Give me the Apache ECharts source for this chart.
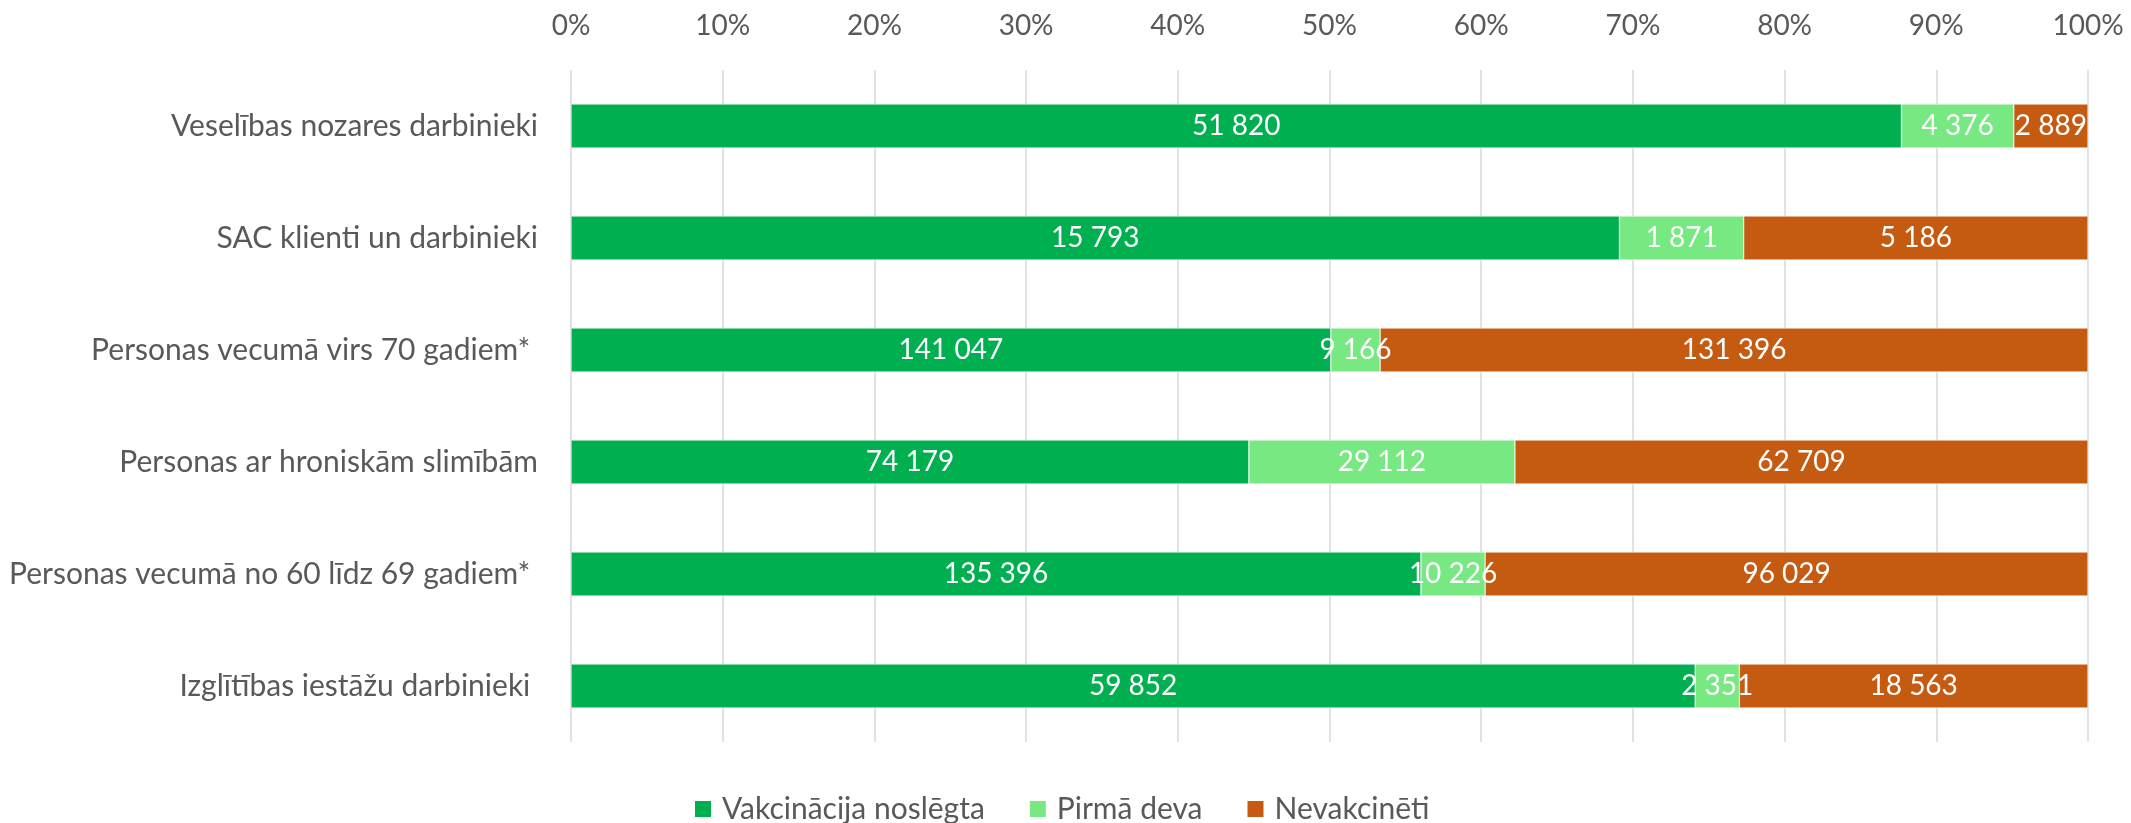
<!DOCTYPE html>
<html>
<head>
<meta charset="utf-8">
<script src="https://cdn.jsdelivr.net/npm/echarts@6/dist/echarts.min.js"></script>
<style>html,body{margin:0;padding:0;background:#fff}#c{width:2131px;height:823px}</style>
</head>
<body>
<div id="c"></div>
<script>
const categories = [
  'Veselības nozares darbinieki',
  'SAC klienti un darbinieki',
  'Personas vecumā virs 70 gadiem* ',
  'Personas ar hroniskām slimībām',
  'Personas vecumā no 60 līdz 69 gadiem* ',
  'Izglītības iestāžu darbinieki '
];
const seriesNames = ['Vakcinācija noslēgta', 'Pirmā deva', 'Nevakcinēti'];
const vakcinacijaNoslegta = [51820, 15793, 141047, 74179, 135396, 59852];
const pirmaDeva = [4376, 1871, 9166, 29112, 10226, 2351];
const nevakcineti = [2889, 5186, 131396, 62709, 96029, 18563];
const tickLabels = ['0%','10%','20%','30%','40%','50%','60%','70%','80%','90%','100%'];
const colors = ['#00B050', '#77E882', '#C55A11'];

const raw = [vakcinacijaNoslegta, pirmaDeva, nevakcineti];
const totals = categories.map((_, i) => raw.reduce((s, arr) => s + arr[i], 0));
const fmt = v => String(v).replace(/\B(?=(\d{3})+(?!\d))/g, ' ');
const FONT = 'Lato';

const chart = echarts.init(document.getElementById('c'));
chart.setOption({
  animation: false,
  textStyle: { fontFamily: FONT },
  grid: { left: 571, right: 43, top: 70, bottom: 81 },
  legend: {
    top: 794,
    left: 693,
    padding: 0,
    icon: 'rect',
    itemWidth: 18,
    itemHeight: 18,
    itemGap: 43,
    textStyle: { fontFamily: FONT, fontSize: 30, lineHeight: 30, color: '#595959', padding: [0, 0, 0, 5] },
    data: seriesNames
  },
  xAxis: {
    type: 'value',
    position: 'top',
    min: 0,
    max: 100,
    interval: 10,
    axisLine: { show: false },
    axisTick: { show: false },
    splitLine: { lineStyle: { color: '#D9D9D9', width: 1.5 } },
    axisLabel: {
      margin: 30,
      fontFamily: FONT,
      fontSize: 28,
      color: '#595959',
      formatter: v => tickLabels[Math.round(v / 10)]
    }
  },
  yAxis: {
    type: 'category',
    inverse: true,
    data: categories,
    axisLine: { show: false },
    axisTick: { show: false },
    axisLabel: { margin: 33, fontFamily: FONT, fontSize: 30, color: '#595959' }
  },
  series: raw.map((arr, si) => ({
    name: seriesNames[si],
    type: 'bar',
    stack: 'total',
    barWidth: 44,
    itemStyle: { color: colors[si], borderColor: '#fff', borderWidth: 0.5 },
    label: {
      show: true,
      position: 'inside',
      color: '#fff',
      fontFamily: FONT,
      fontSize: 28,
      formatter: p => fmt(arr[p.dataIndex])
    },
    data: arr.map((v, i) => v / totals[i] * 100)
  }))
});
</script>
</body>
</html>
